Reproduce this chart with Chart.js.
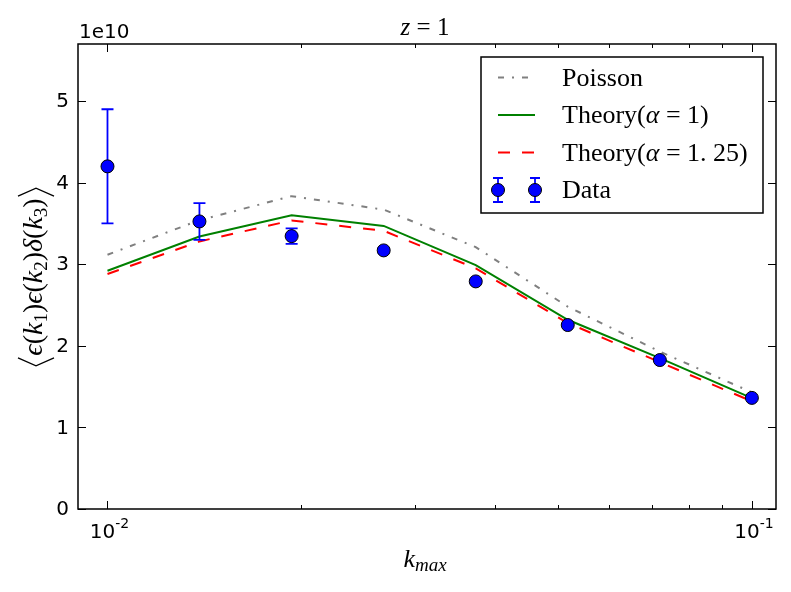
<!DOCTYPE html>
<html>
<head>
<meta charset="utf-8">
<script src="https://cdn.jsdelivr.net/npm/chart.js@4/dist/chart.umd.min.js"></script>
<style>
  html, body { margin: 0; padding: 0; background: #fff; }
  #wrap { width: 791px; height: 592px; position: relative; }
</style>
</head>
<body>
<div id="wrap"><canvas id="c" width="791" height="592"></canvas></div>
<script>
// ---- data (values in units of 1e10) ----
const kMax = [0.01, 0.01389, 0.01931, 0.02683, 0.03728, 0.05179, 0.07197, 0.1];
const dataValues = [4.20, 3.525, 3.345, 3.17, 2.79, 2.255, 1.826, 1.362];
const dataErrors = [0.70, 0.225, 0.095, 0.03, 0.02, 0.02, 0.015, 0.01];
const poissonValues = [3.117, 3.54, 3.835, 3.67, 3.21, 2.48, 1.93, 1.43];
const theory1Values = [2.92, 3.34, 3.60, 3.47, 2.99, 2.32, 1.85, 1.36];
const theory125Values = [2.88, 3.28, 3.537, 3.41, 2.95, 2.28, 1.80, 1.32];
const yTickValues = [0, 1, 2, 3, 4, 5];
const yTickLabels = ['0', '1', '2', '3', '4', '5'];
const xTickValues = [0.01, 0.1];
const xTickExponents = ['-2', '-1'];
const xMinorTicks = [0.02, 0.03, 0.04, 0.05, 0.06, 0.07, 0.08, 0.09];
const seriesNames = ['Poisson', 'Theory', 'Theory', 'Data'];
const SCALE = 1e10;

const toPts = arr => arr.map((v, i) => ({ x: kMax[i], y: v * SCALE }));

function drawRich(ctx, parts, x, y, align) {
  let w = 0;
  const fonts = parts.map(p => {
    const f = (p.it ? 'italic ' : '') + p.size + 'px "' + (p.fam || 'Liberation Serif') + '"';
    ctx.font = f;
    const pw = ctx.measureText(p.t).width + (p.gap || 0);
    w += pw;
    return { f, pw };
  });
  let cx = align === 'center' ? x - w / 2 : (align === 'right' ? x - w : x);
  ctx.textAlign = 'left';
  ctx.textBaseline = 'alphabetic';
  parts.forEach((p, i) => {
    ctx.font = fonts[i].f;
    ctx.fillText(p.t, cx, y + (p.dy || 0));
    cx += fonts[i].pw;
  });
  return { left: align === 'center' ? x - w / 2 : (align === 'right' ? x - w : x), width: w };
}

const decorPlugin = {
  id: 'decor',
  beforeDatasetDraw(chart, args) {
    if (args.index !== 3) return;
    const ctx = chart.ctx, xs = chart.scales.x, ys = chart.scales.y;
    ctx.save();
    ctx.strokeStyle = '#0000ff';
    ctx.lineWidth = 1.8;
    kMax.forEach((k, i) => {
      const px = xs.getPixelForValue(k);
      const top = ys.getPixelForValue((dataValues[i] + dataErrors[i]) * SCALE);
      const bot = ys.getPixelForValue((dataValues[i] - dataErrors[i]) * SCALE);
      ctx.beginPath();
      ctx.moveTo(px, top); ctx.lineTo(px, bot);
      ctx.moveTo(px - 6, top); ctx.lineTo(px + 6, top);
      ctx.moveTo(px - 6, bot); ctx.lineTo(px + 6, bot);
      ctx.stroke();
    });
    ctx.restore();
  },
  afterDraw(chart) {
    const ctx = chart.ctx, a = chart.chartArea, xs = chart.scales.x, ys = chart.scales.y;
    ctx.save();
    ctx.fillStyle = '#000';
    ctx.strokeStyle = '#000';
    ctx.lineWidth = 1;
    ctx.beginPath();
    yTickValues.forEach(v => {
      const py = Math.round(ys.getPixelForValue(v * SCALE)) + 0.5;
      ctx.moveTo(a.left, py); ctx.lineTo(a.left + 8, py);
      ctx.moveTo(a.right, py); ctx.lineTo(a.right - 8, py);
    });
    xTickValues.forEach(v => {
      const px = Math.round(xs.getPixelForValue(v)) + 0.5;
      ctx.moveTo(px, a.bottom); ctx.lineTo(px, a.bottom - 8);
      ctx.moveTo(px, a.top); ctx.lineTo(px, a.top + 8);
    });
    xMinorTicks.forEach(v => {
      const px = Math.round(xs.getPixelForValue(v)) + 0.5;
      ctx.moveTo(px, a.bottom); ctx.lineTo(px, a.bottom - 4);
      ctx.moveTo(px, a.top); ctx.lineTo(px, a.top + 4);
    });
    ctx.stroke();
    ctx.lineWidth = 1.5;
    ctx.strokeRect(a.left, a.top, a.right - a.left, a.bottom - a.top);

    // y tick labels
    ctx.font = '20px "DejaVu Sans"';
    ctx.textAlign = 'right';
    ctx.textBaseline = 'middle';
    yTickValues.forEach((v, i) => {
      ctx.fillText(yTickLabels[i], a.left - 9, ys.getPixelForValue(v * SCALE) + 1);
    });
    ctx.textAlign = 'left';
    ctx.textBaseline = 'alphabetic';
    ctx.fillText('1e10', a.left + 1, a.top - 6);
    // x tick labels 10^n
    xTickValues.forEach((v, i) => {
      const px = xs.getPixelForValue(v);
      drawRich(ctx, [
        { t: '10', size: 20, fam: 'DejaVu Sans' },
        { t: xTickExponents[i], size: 14, fam: 'DejaVu Sans', dy: -10 }
      ], px + 2, a.bottom + 29, 'center');
    });
    // title
    drawRich(ctx, [
      { t: 'z', it: true, size: 25 },
      { t: ' = 1', size: 25 }
    ], (a.left + a.right) / 2 - 2, 35, 'center');
    // x label
    drawRich(ctx, [
      { t: 'k', it: true, size: 26 },
      { t: 'max', it: true, size: 19, dy: 4 }
    ], (a.left + a.right) / 2 - 2, 567, 'center');
    // y label (rotated), thin angle brackets drawn as strokes
    ctx.save();
    ctx.translate(42, 277);
    ctx.rotate(-Math.PI / 2);
    const fs = 28, ss = 19;
    const r = drawRich(ctx, [
      { t: '\u2009\u2009', size: fs },
      { t: '\u03F5', it: true, size: fs },
      { t: '(', size: fs },
      { t: 'k', it: true, size: fs },
      { t: '1', size: ss, dy: 5 },
      { t: ')', size: fs },
      { t: '\u03F5', it: true, size: fs },
      { t: '(', size: fs },
      { t: 'k', it: true, size: fs },
      { t: '2', size: ss, dy: 5 },
      { t: ')', size: fs },
      { t: '\u03B4', it: true, size: fs },
      { t: '(', size: fs },
      { t: 'k', it: true, size: fs },
      { t: '3', size: ss, dy: 5 },
      { t: ')', size: fs },
      { t: '\u2009\u2009', size: fs }
    ], 0, 0, 'center');
    ctx.lineWidth = 1.3;
    ctx.strokeStyle = '#000';
    ctx.beginPath();
    const bl = r.left + 1, br = r.left + r.width - 1;
    ctx.moveTo(bl + 8, -24); ctx.lineTo(bl, -6); ctx.lineTo(bl + 8, 12);
    ctx.moveTo(br - 8, -24); ctx.lineTo(br, -6); ctx.lineTo(br - 8, 12);
    ctx.stroke();
    ctx.restore();

    // legend
    const lx = 481, ly = 57, lw = 282, lh = 156;
    ctx.fillStyle = '#fff';
    ctx.fillRect(lx, ly, lw, lh);
    ctx.lineWidth = 1.5;
    ctx.strokeStyle = '#000';
    ctx.strokeRect(lx, ly, lw, lh);
    const rows = [77.5, 115, 152.5, 190];
    const x0 = 498, x1 = 535, tx = 562;
    const ds = chart.data.datasets;
    for (let i = 0; i < 3; i++) {
      ctx.save();
      ctx.strokeStyle = ds[i].borderColor;
      ctx.lineWidth = ds[i].borderWidth;
      ctx.setLineDash(ds[i].borderDash || []);
      ctx.beginPath();
      ctx.moveTo(x0, rows[i]); ctx.lineTo(x1, rows[i]);
      ctx.stroke();
      ctx.restore();
    }
    [x0, x1].forEach(px => {
      const py = rows[3];
      ctx.strokeStyle = '#0000ff';
      ctx.lineWidth = 1.8;
      ctx.beginPath();
      ctx.moveTo(px, py - 12); ctx.lineTo(px, py + 12);
      ctx.moveTo(px - 5, py - 12); ctx.lineTo(px + 5, py - 12);
      ctx.moveTo(px - 5, py + 12); ctx.lineTo(px + 5, py + 12);
      ctx.stroke();
      ctx.beginPath();
      ctx.arc(px, py, 6.5, 0, Math.PI * 2);
      ctx.fillStyle = '#0000ff';
      ctx.fill();
      ctx.lineWidth = 1;
      ctx.strokeStyle = '#000';
      ctx.stroke();
    });
    ctx.fillStyle = '#000';
    const ts = 26;
    drawRich(ctx, [{ t: seriesNames[0], size: ts }], tx, rows[0] + 8);
    drawRich(ctx, [{ t: seriesNames[1] + '(', size: ts }, { t: '\u03B1', it: true, size: ts }, { t: ' = 1)', size: ts }], tx, rows[1] + 8);
    drawRich(ctx, [{ t: seriesNames[2] + '(', size: ts }, { t: '\u03B1', it: true, size: ts }, { t: ' = 1. 25)', size: ts }], tx, rows[2] + 8);
    drawRich(ctx, [{ t: seriesNames[3], size: ts }], tx, rows[3] + 8);
    ctx.restore();
  }
};

new Chart(document.getElementById('c'), {
  type: 'line',
  data: {
    datasets: [
      { label: 'Poisson', data: toPts(poissonValues), borderColor: '#808080', borderWidth: 2,
        borderDash: [6, 8, 2, 8], pointRadius: 0, fill: false, tension: 0, order: 3 },
      { label: 'Theory(\u03B1 = 1)', data: toPts(theory1Values), borderColor: '#008000', borderWidth: 2,
        pointRadius: 0, fill: false, tension: 0, order: 2 },
      { label: 'Theory(\u03B1 = 1.25)', data: toPts(theory125Values), borderColor: '#ff0000', borderWidth: 2,
        borderDash: [12, 12], pointRadius: 0, fill: false, tension: 0, order: 1 },
      { label: 'Data', data: toPts(dataValues), showLine: false, pointRadius: 6.5,
        pointBackgroundColor: '#0000ff', pointBorderColor: '#000', pointBorderWidth: 1, order: 0 }
    ]
  },
  options: {
    responsive: false,
    animation: false,
    devicePixelRatio: 1,
    layout: { padding: { left: 78, right: 15, top: 44, bottom: 83 } },
    plugins: { legend: { display: false }, tooltip: { enabled: false } },
    scales: {
      x: { type: 'logarithmic', min: 0.009, max: 0.109, display: false },
      y: { type: 'linear', min: 0, max: 5.7 * SCALE, display: false }
    }
  },
  plugins: [decorPlugin]
});
</script>
</body>
</html>
